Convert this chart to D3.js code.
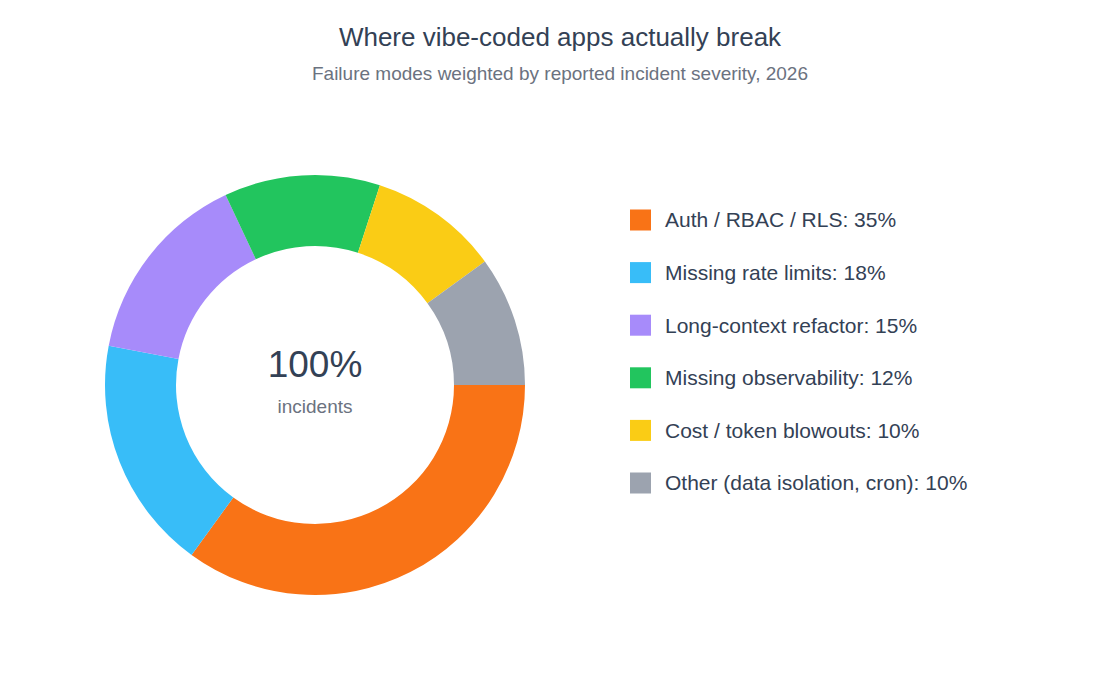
<!DOCTYPE html>
<html>
<head>
<meta charset="utf-8">
<script src="https://cdn.jsdelivr.net/npm/d3@7"></script>
<style>
  body { margin: 0; background: #fff; }
  text { font-family: "Liberation Sans", Arial, Helvetica, sans-serif; }
</style>
</head>
<body>
<div id="chart"></div>
<script>
const width = 1120;
const height = 700;

// chart data
const categories = [
    "Auth / RBAC / RLS",
    "Missing rate limits",
    "Long-context refactor",
    "Missing observability",
    "Cost / token blowouts",
    "Other (data isolation, cron)"
];
const shares = [35, 18, 15, 12, 10, 10];
const colors = ["#f97316", "#38bdf8", "#a78bfa", "#22c55e", "#facc15", "#9ca3af"];

const svg = d3.select("#chart").append("svg")
    .attr("width", width)
    .attr("height", height);

// title + subtitle
svg.append("text")
    .attr("x", 560)
    .attr("y", 46)
    .attr("text-anchor", "middle")
    .attr("font-size", 26)
    .attr("fill", "#334155")
    .text("Where vibe-coded apps actually break");

svg.append("text")
    .attr("x", 560)
    .attr("y", 80)
    .attr("text-anchor", "middle")
    .attr("font-size", 19)
    .attr("fill", "#6b7280")
    .text("Failure modes weighted by reported incident severity, 2026");

// donut
const cx = 315, cy = 385;
const outerR = 210, innerR = 139;

const pie = d3.pie()
    .sort(null)
    .value(d => d)
    .startAngle(Math.PI / 2)
    .endAngle(Math.PI / 2 + 2 * Math.PI);

const arc = d3.arc()
    .innerRadius(innerR)
    .outerRadius(outerR);

const g = svg.append("g")
    .attr("transform", `translate(${cx},${cy})`);

g.selectAll("path")
    .data(pie(shares))
    .enter().append("path")
    .attr("d", arc)
    .attr("fill", (d, i) => colors[i]);

const total = d3.sum(shares);

g.append("text")
    .attr("y", -8)
    .attr("text-anchor", "middle")
    .attr("font-size", 37)
    .attr("fill", "#334155")
    .text(total + "%");

g.append("text")
    .attr("y", 28)
    .attr("text-anchor", "middle")
    .attr("font-size", 19)
    .attr("fill", "#6b7280")
    .text("incidents");

// legend
const legendY = d3.scalePoint()
    .domain(categories)
    .range([220, 483]);

const legend = svg.append("g");

const rows = legend.selectAll("g")
    .data(categories)
    .enter().append("g")
    .attr("transform", d => `translate(630,${legendY(d)})`);

rows.append("rect")
    .attr("x", 0)
    .attr("y", -10.5)
    .attr("width", 21)
    .attr("height", 21)
    .attr("fill", (d, i) => colors[i]);

rows.append("text")
    .attr("x", 35)
    .attr("y", 0)
    .attr("dy", "0.35em")
    .attr("font-size", 21)
    .attr("fill", "#334155")
    .text((d, i) => `${d}: ${shares[i]}%`);
</script>
</body>
</html>
